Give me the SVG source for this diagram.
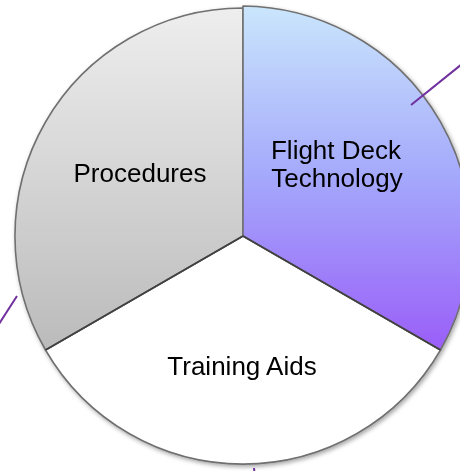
<svg xmlns="http://www.w3.org/2000/svg" width="460" height="471" viewBox="0 0 460 471">
  <defs>
    <linearGradient id="gBlue" x1="0" y1="0" x2="0" y2="1">
      <stop offset="0" stop-color="#cae6fc"/>
      <stop offset="0.5" stop-color="#a4a8fb"/>
      <stop offset="1" stop-color="#9a5ef8"/>
    </linearGradient>
    <linearGradient id="gGrey" x1="0" y1="0" x2="0" y2="1">
      <stop offset="0" stop-color="#eeeeee"/>
      <stop offset="1" stop-color="#bbbbbb"/>
    </linearGradient>
    <filter id="shadow" x="-10%" y="-10%" width="120%" height="120%">
      <feDropShadow dx="1.5" dy="2" stdDeviation="2" flood-color="#000" flood-opacity="0.35"/>
    </filter>
  </defs>
  <style>
    .slice { stroke: #707070; stroke-width: 1.6; stroke-linejoin: round; }
    .lbl { font-family: "Liberation Sans", Arial, sans-serif; font-size: 26px; fill: #000; text-anchor: middle; }
    .conn { stroke: #7030a0; stroke-width: 2; fill: none; }
  </style>
  <rect width="460" height="471" fill="#ffffff"/>
  <g filter="url(#shadow)">
    <g id="training-aids">
      <path class="slice" d="M243,236 L440.5,350 A228,228 0 0 1 45.5,350 Z" fill="#ffffff"/>
      <text class="lbl" x="242" y="375">Training Aids</text>
    </g>
    <g id="procedures">
      <path class="slice" d="M243,236 L45.5,350 A228,228 0 0 1 243,8 Z" fill="url(#gGrey)"/>
      <text class="lbl" x="140" y="182">Procedures</text>
    </g>
    <g id="flight-deck-technology">
      <path class="slice" d="M243,236 L243,6 A230,230 0 0 1 440.5,350 Z" fill="url(#gBlue)"/>
      <text class="lbl" x="336" y="159">Flight Deck</text>
      <text class="lbl" x="337" y="187">Technology</text>
    </g>
  </g>
  <path d="M243,236 L440.5,350 M243,236 L45.5,350" stroke="#404040" stroke-width="1.6" fill="none"/>
  <g id="connectors">
    <line class="conn" x1="411" y1="105" x2="472" y2="56"/>
    <line class="conn" x1="17" y1="296" x2="-3" y2="327"/>
    <line class="conn" x1="254" y1="468" x2="254.5" y2="473"/>
  </g>
</svg>
